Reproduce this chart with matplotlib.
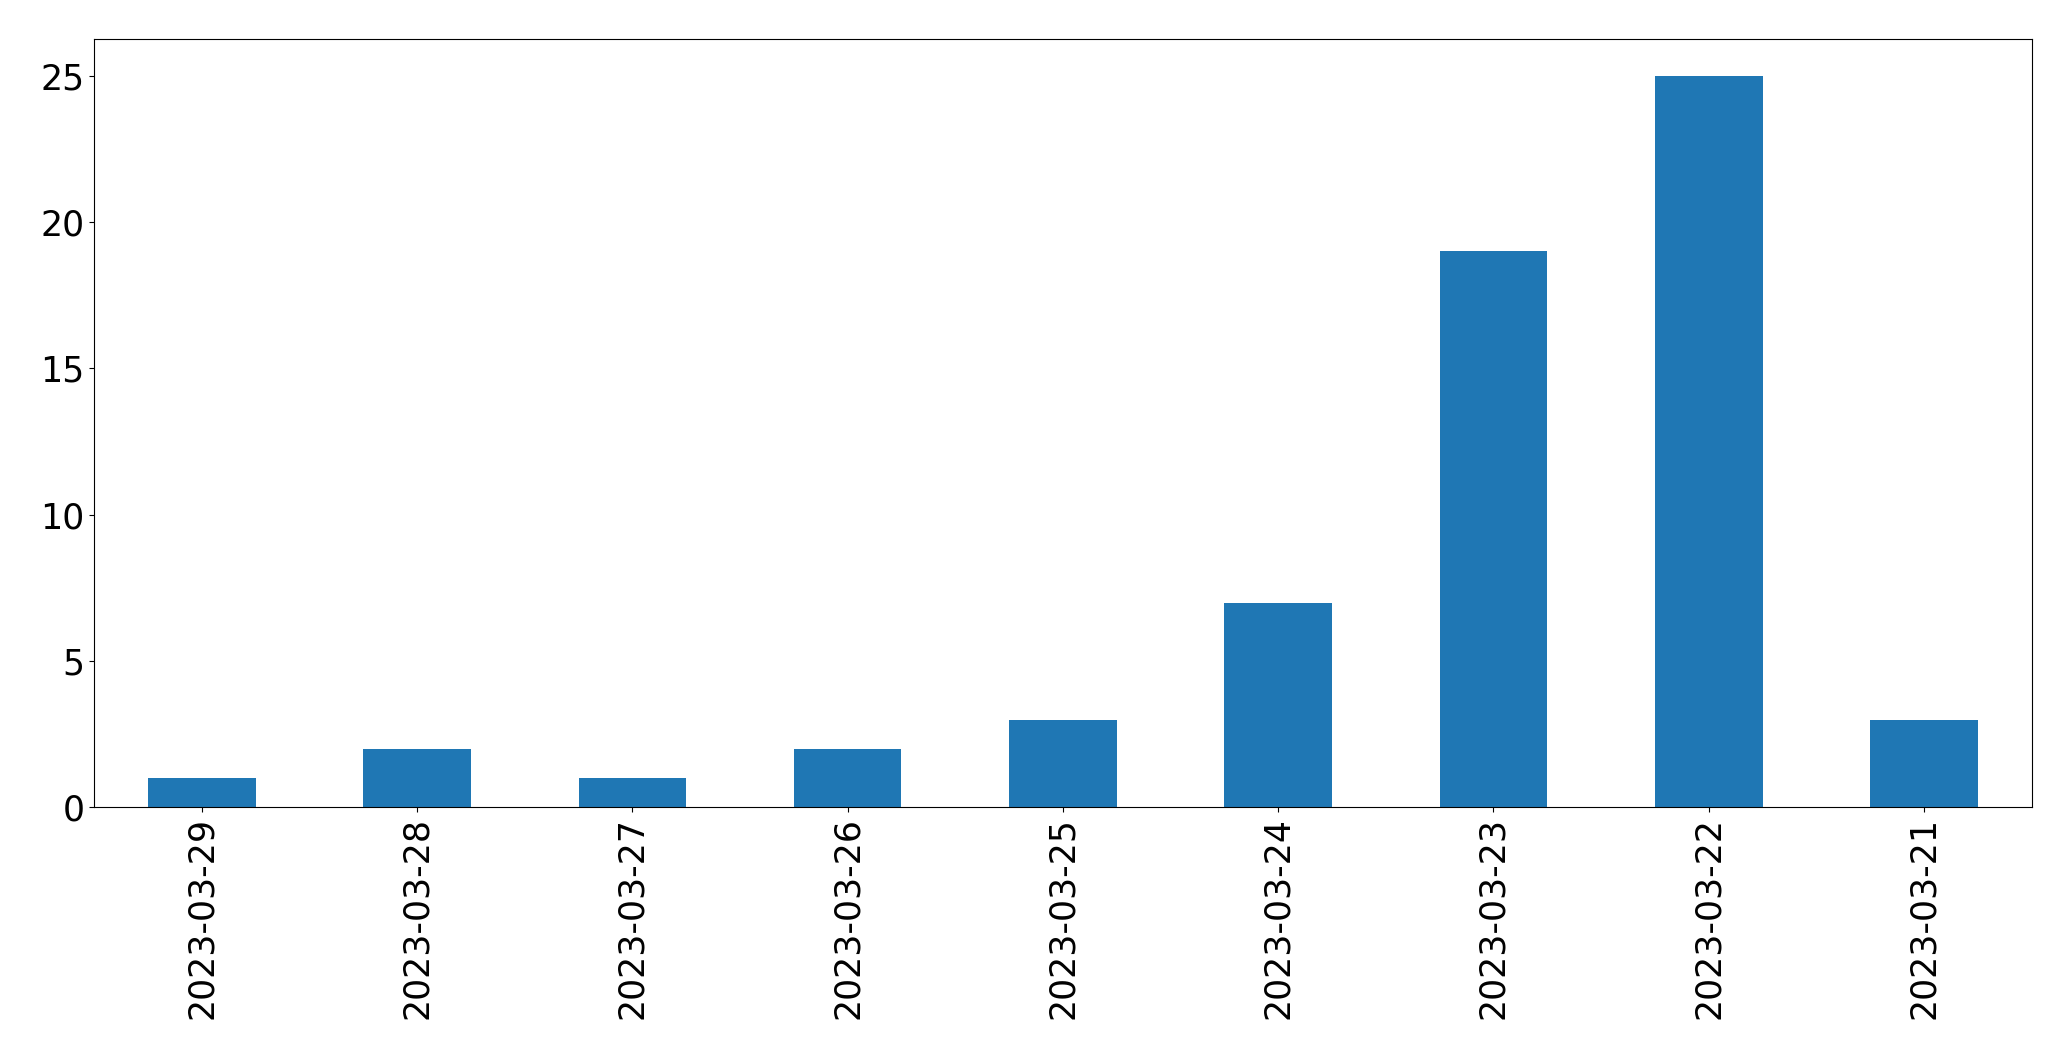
import matplotlib
matplotlib.use("Agg")
import matplotlib.pyplot as plt
import pandas as pd

# counts per day, in the order shown
dates = ["2023-03-29", "2023-03-28", "2023-03-27", "2023-03-26", "2023-03-25",
         "2023-03-24", "2023-03-23", "2023-03-22", "2023-03-21"]
counts = [1, 2, 1, 2, 3, 7, 19, 25, 3]

s = pd.Series(counts, index=dates)

fig, ax = plt.subplots(figsize=(20.71, 10.61), dpi=100)
s.plot(kind="bar", ax=ax, color="#1f77b4")
ax.tick_params(axis="both", labelsize=25)
fig.subplots_adjust(left=0.0455, right=0.981, top=0.963, bottom=0.239)

plt.savefig("out.png", dpi=100)
